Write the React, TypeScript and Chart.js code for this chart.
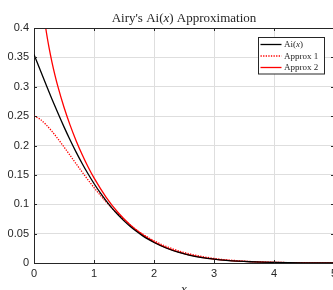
import React, { useEffect, useRef } from "react";
import { Chart, registerables } from "chart.js";

Chart.register(...registerables);

// ---- data ----
const xAi = [0, 0.1, 0.2, 0.3, 0.4, 0.5, 0.6, 0.7, 0.8, 0.9, 1.0, 1.1, 1.2, 1.3, 1.4, 1.5, 1.6, 1.7, 1.8, 1.9, 2.0, 2.2, 2.4, 2.6, 2.8, 3.0, 3.2, 3.4, 3.6, 3.8, 4.0, 4.5, 5.0];
const yAi = [0.35503, 0.3292, 0.3037, 0.27881, 0.25474, 0.23169, 0.2098, 0.18916, 0.16984, 0.15188, 0.13529, 0.12005, 0.10613, 0.09347, 0.08204, 0.07175, 0.06254, 0.05432, 0.04704, 0.0406, 0.03492, 0.02556, 0.01843, 0.01317, 0.00925, 0.00659, 0.00456, 0.00313, 0.00212, 0.00143, 0.00095, 0.00033, 0.00011];

const xApprox1 = [0, 0.1, 0.2, 0.3, 0.4, 0.5, 0.6, 0.7, 0.8, 0.9, 1.0, 1.2, 1.4, 1.6, 1.8, 2.0, 2.2, 2.5, 3.0, 3.5, 4.0, 4.5, 5.0];
const yApprox1 = [0.25, 0.2448, 0.2355, 0.2241, 0.2112, 0.1975, 0.1834, 0.1692, 0.1551, 0.1415, 0.1283, 0.1041, 0.0829, 0.0649, 0.05, 0.0379, 0.0284, 0.0179, 0.0078, 0.0032, 0.0012, 0.00043, 0.00014];

const xApprox2 = [0.1, 0.15, 0.2, 0.25, 0.3, 0.35, 0.4, 0.5, 0.6, 0.7, 0.8, 0.9, 1.0, 1.2, 1.4, 1.6, 1.8, 2.0, 2.2, 2.5, 2.8, 3.0, 3.5, 4.0, 4.5, 5.0];
const yApprox2 = [0.491, 0.436, 0.397, 0.367, 0.3416, 0.3195, 0.2997, 0.265, 0.2351, 0.2087, 0.1851, 0.1639, 0.1448, 0.1122, 0.0859, 0.0651, 0.0487, 0.036, 0.0263, 0.01608, 0.00959, 0.00671, 0.00262, 0.00096, 0.00033, 0.00011];

const xTicks = [0, 1, 2, 3, 4, 5];
const xTickLabels = ["0", "1", "2", "3", "4", "5"];
const yTicks = [0, 0.05, 0.1, 0.15, 0.2, 0.25, 0.3, 0.35, 0.4];
const yTickLabels = ["0", "0.05", "0.1", "0.15", "0.2", "0.25", "0.3", "0.35", "0.4"];

const titleParts = [
  { text: "Airy's Ai(", italic: false },
  { text: "x", italic: true },
  { text: ") Approximation", italic: false },
];
const legendParts = [
  [{ text: "Ai(", italic: false }, { text: "x", italic: true }, { text: ")", italic: false }],
  [{ text: "Approx 1", italic: false }],
  [{ text: "Approx 2", italic: false }],
];
const xAxisLabel = "x";

// ---- styles ----
const AXIS = "#262626";
const GRID = "#dedede";
const SERIF = "'Liberation Serif', 'Times New Roman', serif";
const SANS = "'Liberation Sans', Arial, sans-serif";

function drawParts(ctx: CanvasRenderingContext2D, parts: { text: string; italic: boolean }[], size: number, x: number, y: number, align: "left" | "center") {
  const fontFor = (it: boolean) => `${it ? "italic " : ""}${size}px ${SERIF}`;
  let total = 0;
  for (const p of parts) {
    ctx.font = fontFor(p.italic);
    total += ctx.measureText(p.text).width;
  }
  let cx = align === "center" ? x - total / 2 : x;
  ctx.textAlign = "left";
  for (const p of parts) {
    ctx.font = fontFor(p.italic);
    ctx.fillText(p.text, cx, y);
    cx += ctx.measureText(p.text).width;
  }
}

const decorPlugin = {
  id: "decor",
  afterDraw(chart: any) {
    const { ctx, chartArea: a, scales } = chart;
    ctx.save();
    ctx.strokeStyle = AXIS;
    ctx.lineWidth = 1;
    ctx.setLineDash([]);
    // box: top and right
    ctx.beginPath();
    ctx.moveTo(a.left, a.top + 0.5);
    ctx.lineTo(a.right, a.top + 0.5);
    ctx.moveTo(a.right - 0.5, a.top);
    ctx.lineTo(a.right - 0.5, a.bottom);
    ctx.stroke();
    // inward ticks
    const tl = 3;
    ctx.beginPath();
    for (const v of xTicks) {
      const px = Math.round(scales.x.getPixelForValue(v)) + 0.5;
      ctx.moveTo(px, a.bottom);
      ctx.lineTo(px, a.bottom - tl);
      ctx.moveTo(px, a.top);
      ctx.lineTo(px, a.top + tl);
    }
    for (const v of yTicks) {
      const py = Math.round(scales.y.getPixelForValue(v)) + 0.5;
      ctx.moveTo(a.left, py);
      ctx.lineTo(a.left + tl, py);
      ctx.moveTo(a.right, py);
      ctx.lineTo(a.right - tl, py);
    }
    ctx.stroke();

    // title
    ctx.fillStyle = AXIS;
    ctx.textBaseline = "alphabetic";
    drawParts(ctx, titleParts, 13, (a.left + a.right) / 2, 22, "center");

    // x axis label
    ctx.font = `italic 13px ${SERIF}`;
    ctx.textAlign = "center";
    ctx.fillText(xAxisLabel, (a.left + a.right) / 2, 293);

    // legend
    const bx = 258.5, by = 37.5, bw = 66, bh = 36.5;
    ctx.fillStyle = "#ffffff";
    ctx.fillRect(bx, by, bw, bh);
    ctx.strokeStyle = AXIS;
    ctx.lineWidth = 1;
    ctx.strokeRect(bx, by, bw, bh);
    const rows = [44.5, 56, 67.5];
    const ds = chart.data.datasets;
    rows.forEach((ry: number, i: number) => {
      const d = ds[i];
      ctx.strokeStyle = d.borderColor;
      ctx.lineWidth = d.borderWidth;
      ctx.setLineDash(d.borderDash || []);
      ctx.beginPath();
      ctx.moveTo(260.5, ry);
      ctx.lineTo(281.5, ry);
      ctx.stroke();
      ctx.setLineDash([]);
      ctx.fillStyle = AXIS;
      ctx.textBaseline = "middle";
      drawParts(ctx, legendParts[i], 9, 284, ry + 0.5, "left");
    });
    ctx.restore();
  },
};

export default function App() {
  const ref = useRef<HTMLCanvasElement | null>(null);
  useEffect(() => {
    if (!ref.current) return;
    const mk = (xs: number[], ys: number[]) => xs.map((x, i) => ({ x, y: ys[i] }));
    const chart = new Chart(ref.current, {
      type: "line",
      data: {
        datasets: [
          { label: "Ai(x)", data: mk(xAi, yAi), borderColor: "#000000", borderWidth: 1.3, pointRadius: 0, cubicInterpolationMode: "monotone", fill: false } as any,
          { label: "Approx 1", data: mk(xApprox1, yApprox1), borderColor: "#ff0000", borderWidth: 1.3, borderDash: [1.3, 1.3], pointRadius: 0, cubicInterpolationMode: "monotone", fill: false } as any,
          { label: "Approx 2", data: mk(xApprox2, yApprox2), borderColor: "#ff0000", borderWidth: 1.3, pointRadius: 0, cubicInterpolationMode: "monotone", fill: false } as any,
        ],
      },
      options: {
        animation: false,
        responsive: false,
        devicePixelRatio: 1,
        layout: { padding: { top: 28, right: 11, left: 0, bottom: 0 } },
        plugins: { legend: { display: false }, title: { display: false }, tooltip: { enabled: false } },
        scales: {
          x: {
            type: "linear",
            min: 0,
            max: 5,
            afterBuildTicks: (s: any) => { s.ticks = xTicks.map((v) => ({ value: v })); },
            afterFit: (s: any) => { s.height = 37; },
            ticks: { callback: (_v: any, i: number) => xTickLabels[i], color: AXIS, font: { family: SANS, size: 11 }, padding: 4, maxRotation: 0, autoSkip: false },
            grid: { color: GRID, drawTicks: false, lineWidth: 1 },
            border: { color: AXIS, width: 1 },
          },
          y: {
            type: "linear",
            min: 0,
            max: 0.4,
            afterBuildTicks: (s: any) => { s.ticks = yTicks.map((v) => ({ value: v })); },
            afterFit: (s: any) => { s.width = 34; },
            ticks: { callback: (_v: any, i: number) => yTickLabels[i], color: AXIS, font: { family: SANS, size: 11 }, padding: 5, autoSkip: false },
            grid: { color: GRID, drawTicks: false, lineWidth: 1 },
            border: { color: AXIS, width: 1 },
          },
        },
      } as any,
      plugins: [decorPlugin],
    });
    return () => chart.destroy();
  }, []);
  return (
    <div style={{ position: "fixed", left: 0, top: 0, width: 333, height: 290, overflow: "hidden", background: "#fff" }}>
      <canvas ref={ref} width={345} height={300} style={{ width: 345, height: 300, display: "block" }} />
    </div>
  );
}
